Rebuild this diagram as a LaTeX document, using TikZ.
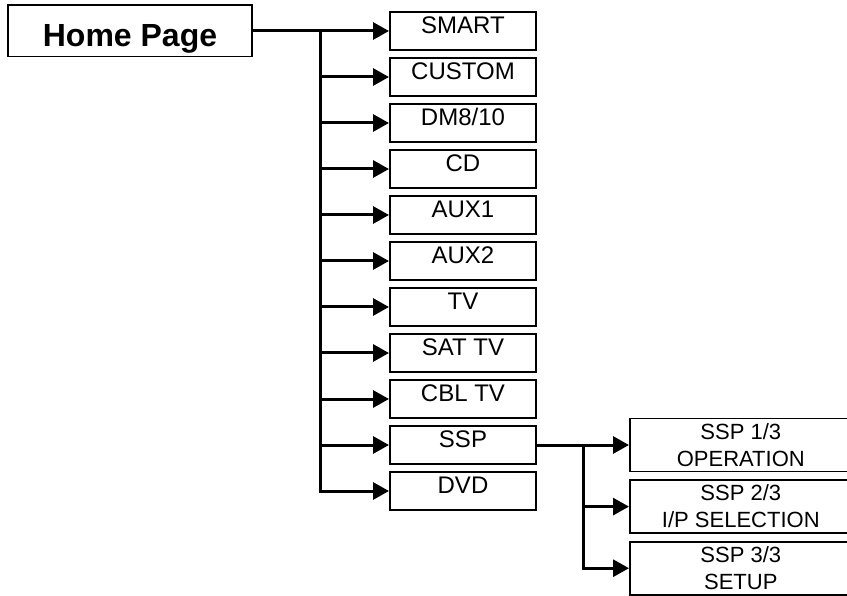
\documentclass[tikz,border=0pt]{standalone}
\usepackage{fontspec}
\setmainfont{Liberation Sans}
\usepackage{tikz}
\usetikzlibrary{arrows.meta, positioning}
\tikzstyle{homebox} = [rectangle, draw=black, line width=1.6pt, minimum width=244pt, minimum height=51.4pt,
                       inner sep=0pt, text height=41pt, text depth=10.4pt, font=\fontsize{32}{36}\selectfont\bfseries]
\tikzstyle{menubox} = [rectangle, draw=black, line width=1.6pt, minimum width=146.4pt, minimum height=38.4pt,
                       inner sep=0pt, text height=22pt, text depth=16.4pt, font=\fontsize{24}{28}\selectfont]
\tikzstyle{subbox}  = [rectangle, draw=black, line width=1.6pt, minimum width=222pt, minimum height=53pt,
                       inner sep=0pt, align=center, font=\fontsize{22}{27}\selectfont]
\tikzstyle{arrow}   = [-{Triangle[length=16pt, width=17pt]}, line width=3pt]
\tikzstyle{trunk}   = [line width=3pt, line cap=rect]

\begin{document}
\begin{tikzpicture}[x=1pt, y=1pt, node distance=6pt]
    \useasboundingbox (0,0) rectangle (847,-596);
    \node (home) [homebox] at (130,-31) {Home Page};

    \node (smart) [menubox] at (463,-31) {SMART};
    \node (custom) [menubox, below=of smart] {CUSTOM};
    \node (dm) [menubox, below=of custom] {DM8/10};
    \node (cd) [menubox, below=of dm] {CD};
    \node (aux1) [menubox, below=of cd] {AUX1};
    \node (aux2) [menubox, below=of aux1] {AUX2};
    \node (tv) [menubox, below=of aux2] {TV};
    \node (sat) [menubox, below=of tv] {SAT TV};
    \node (cbl) [menubox, below=of sat] {CBL TV};
    \node (ssp) [menubox, below=of cbl] {SSP};
    \node (dvd) [menubox, below=of ssp] {DVD};

    \node (ssp1) [subbox, right=92pt of ssp] {SSP 1/3\\OPERATION};
    \node (ssp2) [subbox, below=7pt of ssp1] {SSP 2/3\\I/P SELECTION};
    \node (ssp3) [subbox, below=7pt of ssp2] {SSP 3/3\\SETUP};

    % home page fans out to the source menus
    \coordinate (fork) at ([xshift=68pt]home.east);
    \draw[arrow] (home.east) -- (smart.west);
    \draw[trunk] (fork) -- (fork |- dvd.west);
    \foreach \n in {custom,dm,cd,aux1,aux2,tv,sat,cbl,ssp,dvd}
        \draw[arrow] (fork |- \n.west) -- (\n.west);

    % SSP sub pages
    \coordinate (fork2) at ([xshift=46pt]ssp.east);
    \draw[arrow] (ssp.east) -- (ssp1.west);
    \draw[trunk] (fork2) -- (fork2 |- ssp3.west);
    \foreach \n in {ssp2,ssp3}
        \draw[arrow] (fork2 |- \n.west) -- (\n.west);
\end{tikzpicture}
\end{document}
